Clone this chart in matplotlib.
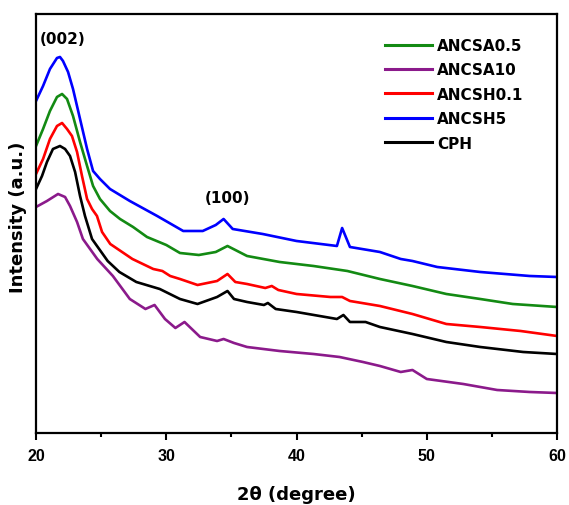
import matplotlib
matplotlib.use("Agg")
import matplotlib.pyplot as plt
from matplotlib.ticker import MultipleLocator

plt.rcParams['font.family'] = ['DejaVu Sans']
plt.rcParams['font.weight'] = 'bold'

# 2theta (degree) and intensity (a.u.)
x_blue = [20.0, 20.54, 21.07, 21.61, 21.84, 22.07, 22.46, 22.84, 23.38, 23.92, 24.38, 24.91, 25.68, 27.2, 29.3, 31.3, 32.8, 33.8, 34.4, 35.1, 37.4, 40.0, 43.1, 43.5, 44.1, 46.4, 48.0, 48.9, 50.8, 54.1, 57.9, 60.0]
y_blue = [332, 347, 364, 375, 376, 372, 361, 344, 314, 284, 262, 254, 244, 232, 217, 202, 202, 208, 214, 204, 199, 192, 187, 205, 186, 181, 174, 172, 166, 161, 157, 156]

x_green = [20.0, 20.54, 21.07, 21.61, 22.0, 22.38, 22.84, 23.38, 23.92, 24.38, 24.91, 25.68, 26.45, 27.45, 28.52, 30.0, 31.05, 32.5, 33.8, 34.7, 36.2, 38.7, 41.3, 43.9, 46.4, 48.9, 51.5, 54.1, 56.6, 60.0]
y_green = [287, 304, 322, 336, 339, 334, 317, 291, 267, 247, 234, 222, 214, 206, 196, 188, 180, 178, 181, 187, 177, 171, 167, 162, 154, 147, 139, 134, 129, 126]

x_red = [20.0, 20.54, 21.07, 21.61, 22.0, 22.38, 22.76, 23.15, 23.53, 23.92, 24.3, 24.68, 25.07, 25.7, 27.4, 29.0, 29.7, 30.3, 31.05, 32.4, 33.9, 34.7, 35.3, 36.2, 37.6, 38.1, 38.6, 40.0, 42.6, 43.5, 44.1, 46.4, 48.9, 51.5, 54.1, 57.2, 60.0]
y_red = [259, 274, 294, 307, 310, 304, 297, 281, 257, 234, 224, 217, 201, 189, 174, 164, 162, 157, 154, 148, 152, 159, 151, 149, 145, 147, 143, 139, 136, 136, 132, 127, 119, 109, 106, 102, 97]

x_black = [20.0, 20.46, 20.84, 21.3, 21.84, 22.23, 22.61, 23.0, 23.38, 23.76, 24.3, 25.5, 26.4, 27.7, 29.5, 31.05, 32.4, 33.9, 34.7, 35.2, 36.2, 37.5, 37.8, 38.4, 40.0, 43.1, 43.6, 44.1, 45.3, 46.4, 48.9, 51.5, 54.1, 57.4, 60.0]
y_black = [244, 257, 271, 284, 287, 284, 277, 261, 237, 217, 194, 172, 161, 151, 144, 134, 129, 136, 142, 134, 131, 128, 130, 124, 121, 114, 118, 111, 111, 106, 99, 91, 86, 81, 79]

x_purple = [20.0, 20.84, 21.69, 22.23, 22.61, 23.15, 23.6, 24.7, 25.9, 27.2, 28.4, 29.1, 29.9, 30.7, 31.4, 32.6, 33.9, 34.4, 35.2, 36.2, 38.7, 41.3, 43.3, 45.1, 46.4, 48.0, 48.9, 50.0, 52.8, 55.4, 57.9, 60.0]
y_purple = [226, 232, 239, 236, 227, 211, 194, 174, 157, 134, 124, 128, 114, 105, 111, 96, 92, 94, 90, 86, 82, 79, 76, 71, 67, 61, 63, 54, 49, 43, 41, 40]

series = [
    ("ANCSA0.5", x_green, y_green, "#138a13"),
    ("ANCSA10", x_purple, y_purple, "#8b1a8b"),
    ("ANCSH0.1", x_red, y_red, "#ff0000"),
    ("ANCSH5", x_blue, y_blue, "#0000ff"),
    ("CPH", x_black, y_black, "#000000"),
]

fig = plt.figure(figsize=(5.69, 5.06), dpi=100)
ax = fig.add_axes([0.0633, 0.1423, 0.9157, 0.8281])

for name, xs, ys, c in series:
    ax.plot(xs, ys, color=c, lw=1.9, label=name)

ax.set_xlim(20, 60)
ax.set_ylim(0, 419)
ax.xaxis.set_major_locator(MultipleLocator(10))
ax.xaxis.set_minor_locator(MultipleLocator(5))
ax.tick_params(axis='x', which='major', direction='out', length=5, width=1.5, labelsize=11.5, pad=6)
ax.tick_params(axis='x', which='minor', direction='out', length=3, width=1.5)
for lbl in ax.get_xticklabels():
    lbl.set_family(['Liberation Sans', 'DejaVu Sans'])
    lbl.set_fontweight('bold')
ax.set_yticks([])
for s in ax.spines.values():
    s.set_linewidth(1.6)

ax.set_xlabel("2θ (degree)", fontsize=13, fontweight='bold', labelpad=15.5)
ax.set_ylabel("Intensity (a.u.)", fontsize=13, fontweight='bold')
ax.yaxis.set_label_coords(-0.0173, 0.518)

ax.text(22.07, 394, "(002)", fontsize=11, fontweight='bold', ha='center', va='center')
ax.text(34.7, 235, "(100)", fontsize=11, fontweight='bold', ha='center', va='center')

leg = ax.legend(loc='upper left', bbox_to_anchor=(0.67, 0.943), frameon=False,
                borderaxespad=0, borderpad=0,
                prop={'size': 11, 'weight': 'bold'}, handlelength=3.1,
                handletextpad=0.3, labelspacing=0.62)
for lh in leg.get_lines():
    lh.set_linewidth(2.2)

fig.savefig("out.png", dpi=100)
